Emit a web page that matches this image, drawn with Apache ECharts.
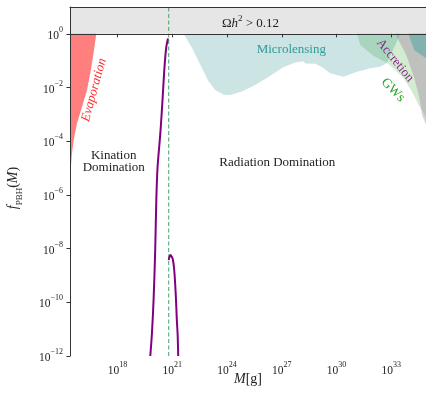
<!DOCTYPE html>
<html><head><meta charset="utf-8">
<script src="https://cdn.jsdelivr.net/npm/echarts@6/dist/echarts.min.js"></script>
<style>html,body{margin:0;padding:0;background:#fff}#c{width:426px;height:396px}</style>
</head><body><div id="c"></div>
<script>
// axis extents in log10 units
const xRange = [15.39, 34.9];
const yRange = [-12, 1];
const xTicks = [18, 21, 24, 27, 30, 33];
const yTicks = [-12, -10, -8, -6, -4, -2, 0];

// PBH mass function (log10 M, log10 f)
const riseX = [19.79, 19.88, 19.97, 20.06, 20.12, 20.19, 20.34, 20.46, 20.57, 20.67, 20.76];
const riseY = [-12, -11.16, -9.92, -8.05, -6.19, -4.95, -3.71, -2.47, -1.23, -0.48, -0.17];
const fallX = [20.80, 20.89, 21.02, 21.11, 21.19, 21.24, 21.29, 21.32];
const fallY = [-8.43, -8.24, -8.39, -8.87, -9.77, -10.59, -11.22, -12.0];
const transitionX = 20.8;

// constraint regions
const omegaX = [15.39, 34.9, 34.9, 15.39];
const omegaY = [0, 0, 1, 1];
const evapX = [16.83, 16.68, 16.50, 16.32, 16.05, 15.77, 15.59, 15.50, 15.44, 15.39, 15.39];
const evapY = [0, -0.73, -1.47, -2.10, -2.72, -3.34, -3.96, -4.45, -4.95, -5.33, 0];
const microX = [21.61, 22.08, 22.53, 22.98, 23.35, 23.81, 24.17, 24.81, 25.54, 26.26, 27.08, 27.74, 28.17, 28.28, 28.83, 29.21, 29.65, 30.37, 31.08, 31.84, 32.39, 32.76, 33.49];
const microY = [0, -0.53, -1.15, -1.77, -2.09, -2.27, -2.28, -2.15, -1.91, -1.61, -1.24, -1.07, -1.02, -1.10, -1.11, -1.24, -1.47, -1.60, -1.42, -1.28, -1.23, -1.09, 0];
const gwX = [31.12, 31.30, 31.95, 32.76, 33.21, 33.67, 34.13, 34.49, 34.77, 34.9, 34.9];
const gwY = [0, -0.42, -0.79, -1.09, -1.34, -1.65, -2.15, -2.64, -2.95, -3.14, 0];
const gwMicroX = [31.12, 31.30, 31.95, 32.76, 33.49];
const gwMicroY = [0, -0.42, -0.79, -1.09, 0];
const accX = [33.21, 33.82, 34.26, 34.53, 34.69, 34.9, 34.9];
const accY = [0, -0.79, -1.65, -2.36, -3.03, -3.40, 0];
const darkX = [33.93, 34.26, 34.9, 34.9];
const darkY = [0, -0.61, -0.91, 0];

const SERIF = '"Liberation Serif", "DejaVu Serif", serif';
const chart = echarts.init(document.getElementById('c'), null, {renderer: 'canvas'});

function poly(xs, ys, color) {
  return {
    type: 'custom', coordinateSystem: 'cartesian2d', silent: true, clip: true,
    data: [[xs[0], ys[0]]],
    renderItem: (params, api) => ({
      type: 'polygon',
      shape: {points: xs.map((x, i) => api.coord([x, ys[i]]))},
      style: {fill: color}
    })
  };
}
const pairs = (xs, ys) => xs.map((x, i) => [x, ys[i]]);
const supRich = {
  b: {fontFamily: SERIF, fontSize: 11.5, color: '#222', verticalAlign: 'bottom', lineHeight: 16},
  s: {fontFamily: SERIF, fontSize: 8, color: '#222', verticalAlign: 'top', lineHeight: 16}
};
const powLabel = v => '{b|10}{s|' + (v < 0 ? '\u2212' + (-v) : v) + '}';
const axisLineStyle = {color: '#333', width: 1};

chart.setOption({
  animation: false,
  grid: {left: 70, right: 0, top: 7, bottom: 40},
  xAxis: [{
    type: 'value', min: xRange[0], max: xRange[1], z: 10,
    axisLine: {show: true, lineStyle: axisLineStyle},
    axisTick: {show: true, length: 3.5, customValues: xTicks, lineStyle: axisLineStyle},
    axisLabel: {customValues: xTicks, formatter: powLabel, rich: supRich, margin: 5},
    splitLine: {show: false}
  }, {
    type: 'value', position: 'top', min: xRange[0], max: xRange[1], z: 10,
    axisLine: {show: true, lineStyle: axisLineStyle},
    axisTick: {show: false}, axisLabel: {show: false}, splitLine: {show: false}
  }],
  yAxis: {
    type: 'value', min: yRange[0], max: yRange[1], z: 10,
    axisLine: {show: true, lineStyle: axisLineStyle},
    axisTick: {show: true, length: 3.5, customValues: yTicks, lineStyle: axisLineStyle},
    axisLabel: {customValues: yTicks, formatter: powLabel, rich: supRich, margin: 7},
    splitLine: {show: false}
  },
  series: [
    poly(omegaX, omegaY, '#e6e6e6'),
    poly(evapX, evapY, '#ff7f7f'),
    poly(microX, microY, '#cce5e4'),
    poly(gwX, gwY, '#d3ebd1'),
    poly(gwMicroX, gwMicroY, '#a9d5be'),
    poly(accX, accY, 'rgba(150,110,150,0.33)'),
    poly(darkX, darkY, '#80b3ae'),
    {type: 'line', data: [[transitionX, yRange[0]], [transitionX, yRange[1]]], showSymbol: false, silent: true,
     lineStyle: {color: '#45a46f', width: 1, type: [4, 2.5]}},
    {type: 'line', data: pairs(riseX, riseY), showSymbol: false, smooth: 0.3, silent: true,
     lineStyle: {color: '#800080', width: 2}},
    {type: 'line', data: pairs(fallX, fallY), showSymbol: false, smooth: 0.3, silent: true,
     lineStyle: {color: '#800080', width: 2}}
  ],
  graphic: [
    {type: 'text', x: 250.5, y: 21.7, z: 20, style: {
      text: '{n|\u03A9}{i|h}{s|2}{n| > 0.12}', align: 'center', verticalAlign: 'middle',
      rich: {n: {fontFamily: SERIF, fontSize: 13, fill: '#222', verticalAlign: 'bottom', lineHeight: 16},
             i: {fontFamily: SERIF, fontSize: 13, fontStyle: 'italic', fill: '#222', verticalAlign: 'bottom', lineHeight: 16},
             s: {fontFamily: SERIF, fontSize: 9, fill: '#222', verticalAlign: 'top', lineHeight: 16}}}},
    {type: 'text', x: 291.3, y: 49.3, z: 20, style: {text: 'Microlensing', fontFamily: SERIF, fontSize: 13,
      fill: '#2f9a96', align: 'center', verticalAlign: 'middle'}},
    {type: 'text', x: 113.7, y: 162, z: 20, style: {text: 'Kination\nDomination', fontFamily: SERIF, fontSize: 13,
      lineHeight: 12, fill: '#222', align: 'center', verticalAlign: 'middle'}},
    {type: 'text', x: 277.3, y: 162.3, z: 20, style: {text: 'Radiation Domination', fontFamily: SERIF, fontSize: 13,
      fill: '#222', align: 'center', verticalAlign: 'middle'}},
    {type: 'text', x: 94, y: 90, z: 20, rotation: 74.6 * Math.PI / 180, style: {text: 'Evaporation', fontFamily: SERIF,
      fontSize: 13, fontStyle: 'italic', fill: '#ff3030', align: 'center', verticalAlign: 'middle'}},
    {type: 'text', x: 395, y: 60.5, z: 20, rotation: -51 * Math.PI / 180, style: {text: 'Accretion', fontFamily: SERIF,
      fontSize: 13, fill: '#8a2a8a', align: 'center', verticalAlign: 'middle'}},
    {type: 'text', x: 393, y: 90, z: 20, rotation: -45 * Math.PI / 180, style: {text: 'GWs', fontFamily: SERIF,
      fontSize: 13.5, fill: '#2ca02c', align: 'center', verticalAlign: 'middle'}},
    {type: 'text', x: 248, y: 379, z: 20, style: {
      text: '{i|M}{n|[g]}', align: 'center', verticalAlign: 'middle',
      rich: {i: {fontFamily: SERIF, fontSize: 14, fontStyle: 'italic', fill: '#222'},
             n: {fontFamily: SERIF, fontSize: 14, fill: '#222'}}}},
    {type: 'text', x: 15, y: 188, z: 20, rotation: Math.PI / 2, style: {
      text: '{i|f}{sub|PBH}{n|(}{i|M}{n|)}', align: 'center', verticalAlign: 'middle',
      rich: {i: {fontFamily: SERIF, fontSize: 14, fontStyle: 'italic', fill: '#222', verticalAlign: 'top', lineHeight: 18},
             n: {fontFamily: SERIF, fontSize: 14, fill: '#222', verticalAlign: 'top', lineHeight: 18},
             sub: {fontFamily: SERIF, fontSize: 9, fill: '#222', verticalAlign: 'bottom', lineHeight: 18}}}}
  ]
});
</script></body></html>
